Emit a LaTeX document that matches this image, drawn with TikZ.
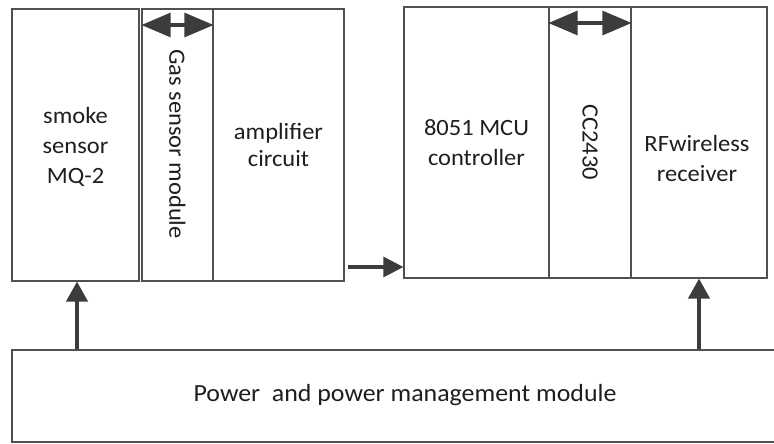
\documentclass[tikz,border=0pt]{standalone}
\usepackage{fontspec}
\setmainfont{Carlito}[FakeStretch=1.05]
\usetikzlibrary{arrows.meta}
\definecolor{boxline}{HTML}{505050}
\definecolor{arrowc}{HTML}{3C3C3C}
\definecolor{txt}{HTML}{1E1E1E}
\begin{document}
\begin{tikzpicture}[x=0.75pt,y=-0.75pt,
  blockbox/.style={draw=boxline,line width=0.9pt,rectangle,inner sep=0pt},
  lbl/.style={text=txt,font=\fontsize{17.5}{22.5}\selectfont,align=center,inner sep=0pt},
  bigarrow/.style={draw=arrowc,line width=2.6pt,
    {Triangle[length=22pt,width=18pt]}-{Triangle[length=22pt,width=18pt]}},
  uparrow/.style={draw=arrowc,line width=2.4pt,-{Triangle[length=15pt,width=16pt]}},
  flowarrow/.style={draw=arrowc,line width=2.4pt,-{Triangle[length=15pt,width=15pt]}}]
\useasboundingbox (0,0) rectangle (774,443);
% left group
\node[blockbox,minimum width=127*0.75pt,minimum height=272*0.75pt] (smoke) at (75.5,145) {};
\node[lbl] (smoketxt) at (75.5,147) {smoke\\sensor\\MQ-2};
\node[blockbox,minimum width=71*0.75pt,minimum height=272*0.75pt] (gas) at (177.5,145) {};
\node[lbl,rotate=-90] (gastxt) at (177.5,144) {Gas sensor module};
\node[blockbox,minimum width=131*0.75pt,minimum height=272*0.75pt] (amp) at (278.5,145) {};
\node[lbl,font=\fontsize{17.5}{20}\selectfont] (amptxt) at (278.5,145) {amplifier\\circuit};
% right group
\node[blockbox,minimum width=145*0.75pt,minimum height=271*0.75pt] (mcu) at (476.5,142.5) {};
\node[lbl] (mcutxt) at (476.5,143) {8051 MCU\\controller};
\node[blockbox,minimum width=82*0.75pt,minimum height=271*0.75pt] (cc) at (590,142.5) {};
\node[lbl,rotate=-90] (cctxt) at (590,142) {CC2430};
\node[blockbox,minimum width=136*0.75pt,minimum height=271*0.75pt] (rf) at (699,142.5) {};
\node[lbl] (rftxt) at (697,158) {RFwireless\\receiver};
% power
\node[blockbox,minimum width=770*0.75pt,minimum height=92*0.75pt] (power) at (397,396) {};
\node[lbl,font=\fontsize{18.5}{20}\selectfont] (powertxt) at (405,395) {Power\ \ and power management module};
% arrows
\draw[bigarrow] (gas.west |- 0,25) -- (gas.east |- 0,25);
\draw[bigarrow] (cc.west |- 0,23) -- (cc.east |- 0,23);
\coordinate (flowstart) at (348,267);
\draw[flowarrow] (flowstart) -- (mcu.west |- flowstart);
\draw[uparrow] (power.north -| 77,0) -- (smoke.south -| 77,0);
\draw[uparrow] (power.north -| 699,0) -- (rf.south -| 699,0);
\end{tikzpicture}
\end{document}
